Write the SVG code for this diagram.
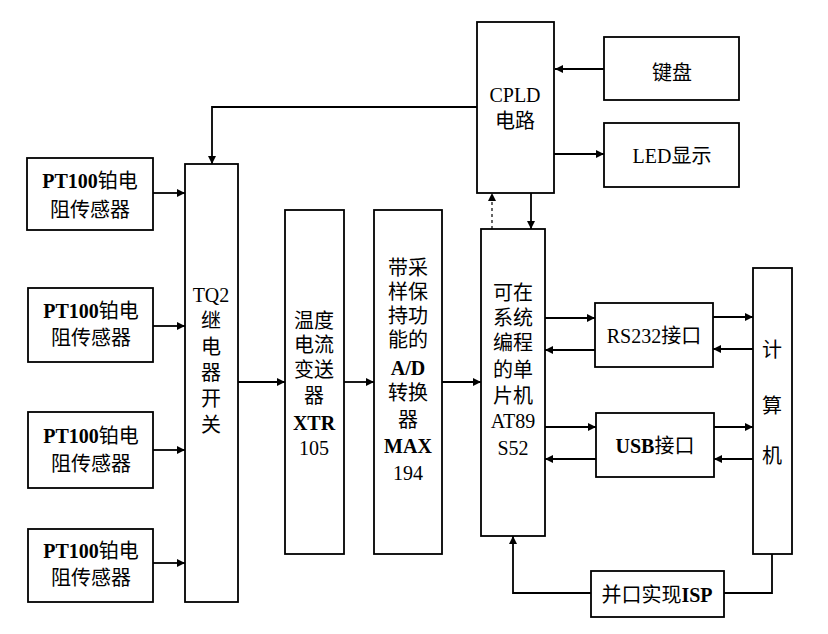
<svg xmlns="http://www.w3.org/2000/svg" width="828" height="634" viewBox="0 0 828 634">
<defs>
<marker id="ah" viewBox="0 0 10 10" refX="10" refY="5" markerWidth="11" markerHeight="8" markerUnits="userSpaceOnUse" orient="auto">
<path d="M0,0 L10,5 L0,10 z" fill="#000"/>
</marker>
</defs>
<style>
.box{fill:#fff;stroke:#000;stroke-width:1.8}
.ln{fill:none;stroke:#000;stroke-width:1.8}
.dash{fill:none;stroke:#000;stroke-width:1.2;stroke-dasharray:3,3}
text{font-family:"Liberation Serif","Noto Sans CJK SC",serif;font-size:20px;fill:#000;text-anchor:middle}
.b{font-weight:bold}
</style>
<rect width="828" height="634" fill="#fff"/>
<g id="connectors">
<line class="ln" x1="153" y1="193" x2="185" y2="193" marker-end="url(#ah)"/>
<line class="ln" x1="153" y1="326" x2="185" y2="326" marker-end="url(#ah)"/>
<line class="ln" x1="153" y1="450" x2="185" y2="450" marker-end="url(#ah)"/>
<line class="ln" x1="153" y1="563" x2="185" y2="563" marker-end="url(#ah)"/>
<polyline class="ln" points="477,107 212,107 212,164" marker-end="url(#ah)"/>
<line class="ln" x1="238" y1="382" x2="285" y2="382" marker-end="url(#ah)"/>
<line class="ln" x1="344" y1="382" x2="374" y2="382" marker-end="url(#ah)"/>
<line class="ln" x1="442" y1="382" x2="481" y2="382" marker-end="url(#ah)"/>
<line class="ln" x1="604" y1="69" x2="555" y2="69" marker-end="url(#ah)"/>
<line class="ln" x1="554" y1="154" x2="604" y2="154" marker-end="url(#ah)"/>
<line class="dash" x1="492" y1="229" x2="492" y2="193" marker-end="url(#ah)"/>
<line class="ln" x1="531" y1="193" x2="531" y2="229" marker-end="url(#ah)"/>
<line class="ln" x1="545" y1="318" x2="595" y2="318" marker-end="url(#ah)"/>
<line class="ln" x1="595" y1="350" x2="545" y2="350" marker-end="url(#ah)"/>
<line class="ln" x1="713" y1="317" x2="753" y2="317" marker-end="url(#ah)"/>
<line class="ln" x1="753" y1="349" x2="713" y2="349" marker-end="url(#ah)"/>
<line class="ln" x1="545" y1="427" x2="596" y2="427" marker-end="url(#ah)"/>
<line class="ln" x1="596" y1="459" x2="545" y2="459" marker-end="url(#ah)"/>
<line class="ln" x1="714" y1="427" x2="753" y2="427" marker-end="url(#ah)"/>
<line class="ln" x1="753" y1="459" x2="714" y2="459" marker-end="url(#ah)"/>
<polyline class="ln" points="772,554 772,593 724,593"/>
<polyline class="ln" points="591,593 513,593 513,536" marker-end="url(#ah)"/>
</g>
<g id="sensor1"><rect class="box" x="27" y="158" width="126" height="72"/><text x="90" y="188"><tspan class="b">PT100</tspan>铂电</text><text x="90" y="217">阻传感器</text></g>
<g id="sensor2"><rect class="box" x="28" y="288" width="125" height="74"/><text x="91" y="318"><tspan class="b">PT100</tspan>铂电</text><text x="91" y="345">阻传感器</text></g>
<g id="sensor3"><rect class="box" x="28" y="412" width="125" height="76"/><text x="91" y="443"><tspan class="b">PT100</tspan>铂电</text><text x="91" y="471">阻传感器</text></g>
<g id="sensor4"><rect class="box" x="28" y="529" width="125" height="73"/><text x="91" y="558"><tspan class="b">PT100</tspan>铂电</text><text x="91" y="585">阻传感器</text></g>
<g id="relay"><rect class="box" x="185" y="164" width="53" height="438"/>
<text x="211" y="302">TQ2</text><text x="211" y="328">继</text><text x="211" y="354">电</text><text x="211" y="380">器</text><text x="211" y="406">开</text><text x="211" y="432">关</text></g>
<g id="xtr"><rect class="box" x="285" y="210" width="59" height="344"/>
<text x="314" y="328">温度</text><text x="314" y="352">电流</text><text x="314" y="377">变送</text><text x="314" y="403">器</text><text x="314" y="430" class="b">XTR</text><text x="314" y="455">105</text></g>
<g id="adc"><rect class="box" x="374" y="210" width="68" height="344"/>
<text x="408" y="275">带采</text><text x="408" y="299">样保</text><text x="408" y="323">持功</text><text x="408" y="347">能的</text><text x="408" y="375" class="b">A/D</text><text x="408" y="400">转换</text><text x="408" y="427">器</text><text x="408" y="453" class="b">MAX</text><text x="408" y="480">194</text></g>
<g id="mcu"><rect class="box" x="481" y="229" width="64" height="307"/>
<text x="513" y="300">可在</text><text x="513" y="325">系统</text><text x="513" y="350">编程</text><text x="513" y="377">的单</text><text x="513" y="403">片机</text><text x="513" y="428">AT89</text><text x="513" y="455">S52</text></g>
<g id="cpld"><rect class="box" x="477" y="22" width="77" height="171"/><text x="515" y="102">CPLD</text><text x="515" y="128">电路</text></g>
<g id="keyboard"><rect class="box" x="604" y="37" width="135" height="63"/><text x="672" y="80">键盘</text></g>
<g id="led"><rect class="box" x="604" y="123" width="135" height="64"/><text x="672" y="163">LED显示</text></g>
<g id="rs232"><rect class="box" x="595" y="303" width="118" height="64"/><text x="654" y="343">RS232接口</text></g>
<g id="usb"><rect class="box" x="596" y="413" width="118" height="64"/><text x="655" y="453"><tspan class="b">USB</tspan>接口</text></g>
<g id="computer"><rect class="box" x="753" y="268" width="39" height="286"/><text x="772" y="357">计</text><text x="772" y="413">算</text><text x="772" y="463">机</text></g>
<g id="isp"><rect class="box" x="591" y="571" width="133" height="46"/><text x="657" y="602">并口实现<tspan class="b">ISP</tspan></text></g>
</svg>
